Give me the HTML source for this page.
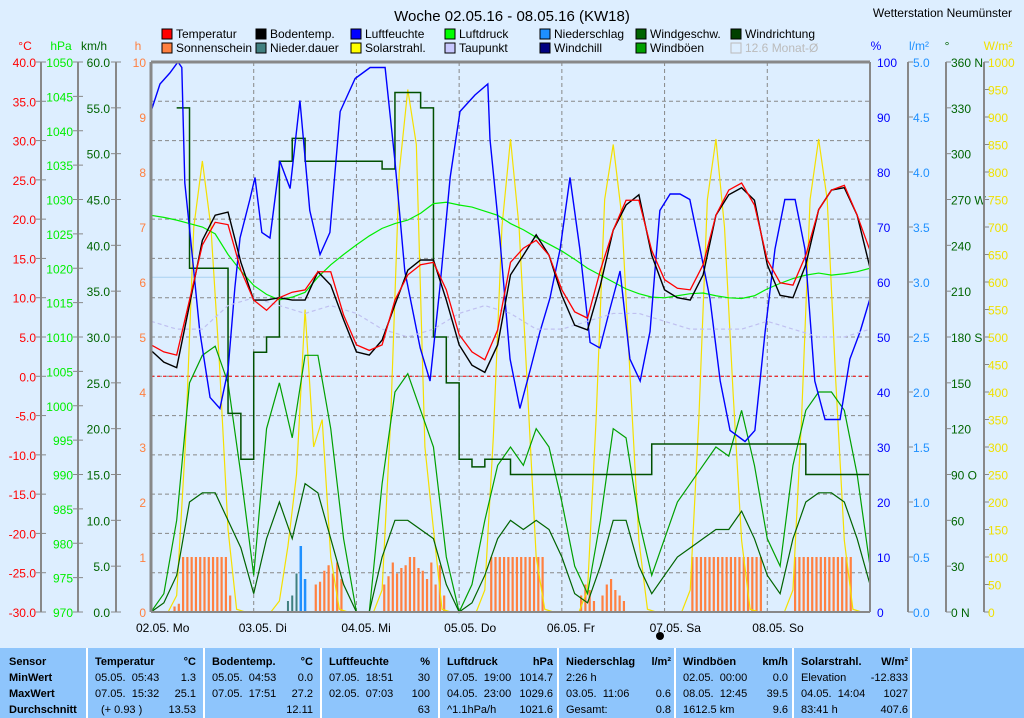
<!DOCTYPE html>
<html><head><meta charset="utf-8">
<style>
body{margin:0;background:#ddeeff;font-family:"Liberation Sans",sans-serif;}
#wrap{position:relative;width:1024px;height:718px;overflow:hidden;background:#ddeeff;}
svg{position:absolute;left:0;top:0;}
#tbl{position:absolute;left:0;top:648px;width:1024px;height:70px;background:#8ec5fc;}
.col{position:absolute;top:0;height:70px;border-left:2px solid #fff;font-size:11px;color:#000;}
.col div{position:absolute;white-space:nowrap;}
.b{font-weight:bold;}
</style></head><body>
<div id="wrap">
<svg id="chart" width="1024" height="648"></svg>
<div id="tbl">
 <div class="col" style="left:-2px;width:88px">
  <div class="b" style="left:9px;top:8px">Sensor</div><div class="b" style="left:9px;top:24px">MinWert</div><div class="b" style="left:9px;top:40px">MaxWert</div><div class="b" style="left:9px;top:56px">Durchschnitt</div></div>
 <div class="col" style="left:86px;width:116px">
  <div class="b" style="left:7px;top:8px">Temperatur</div><div class="b" style="right:8px;top:8px">°C</div>
  <div style="left:7px;top:24px">05.05.&nbsp; 05:43</div><div style="right:8px;top:24px">1.3</div>
  <div style="left:7px;top:40px">07.05.&nbsp; 15:32</div><div style="right:8px;top:40px">25.1</div>
  <div style="left:13px;top:56px">(+ 0.93 )</div><div style="right:8px;top:56px">13.53</div></div>
 <div class="col" style="left:203px;width:116px">
  <div class="b" style="left:7px;top:8px">Bodentemp.</div><div class="b" style="right:8px;top:8px">°C</div>
  <div style="left:7px;top:24px">05.05.&nbsp; 04:53</div><div style="right:8px;top:24px">0.0</div>
  <div style="left:7px;top:40px">07.05.&nbsp; 17:51</div><div style="right:8px;top:40px">27.2</div>
  <div style="right:8px;top:56px">12.11</div></div>
 <div class="col" style="left:320px;width:116px">
  <div class="b" style="left:7px;top:8px">Luftfeuchte</div><div class="b" style="right:8px;top:8px">%</div>
  <div style="left:7px;top:24px">07.05.&nbsp; 18:51</div><div style="right:8px;top:24px">30</div>
  <div style="left:7px;top:40px">02.05.&nbsp; 07:03</div><div style="right:8px;top:40px">100</div>
  <div style="right:8px;top:56px">63</div></div>
 <div class="col" style="left:438px;width:117px">
  <div class="b" style="left:7px;top:8px">Luftdruck</div><div class="b" style="right:4px;top:8px">hPa</div>
  <div style="left:7px;top:24px">07.05.&nbsp; 19:00</div><div style="right:4px;top:24px">1014.7</div>
  <div style="left:7px;top:40px">04.05.&nbsp; 23:00</div><div style="right:4px;top:40px">1029.6</div>
  <div style="left:7px;top:56px">^1.1hPa/h</div><div style="right:4px;top:56px">1021.6</div></div>
 <div class="col" style="left:557px;width:116px">
  <div class="b" style="left:7px;top:8px">Niederschlag</div><div class="b" style="right:4px;top:8px">l/m²</div>
  <div style="left:7px;top:24px">2:26 h</div>
  <div style="left:7px;top:40px">03.05.&nbsp; 11:06</div><div style="right:4px;top:40px">0.6</div>
  <div style="left:7px;top:56px">Gesamt:</div><div style="right:4px;top:56px">0.8</div></div>
 <div class="col" style="left:674px;width:116px">
  <div class="b" style="left:7px;top:8px">Windböen</div><div class="b" style="right:4px;top:8px">km/h</div>
  <div style="left:7px;top:24px">02.05.&nbsp; 00:00</div><div style="right:4px;top:24px">0.0</div>
  <div style="left:7px;top:40px">08.05.&nbsp; 12:45</div><div style="right:4px;top:40px">39.5</div>
  <div style="left:7px;top:56px">1612.5 km</div><div style="right:4px;top:56px">9.6</div></div>
 <div class="col" style="left:792px;width:118px">
  <div class="b" style="left:7px;top:8px">Solarstrahl.</div><div class="b" style="right:4px;top:8px">W/m²</div>
  <div style="left:7px;top:24px">Elevation</div><div style="right:4px;top:24px">-12.833</div>
  <div style="left:7px;top:40px">04.05.&nbsp; 14:04</div><div style="right:4px;top:40px">1027</div>
  <div style="left:7px;top:56px">83:41 h</div><div style="right:4px;top:56px">407.6</div></div>
 <div class="col" style="left:910px;width:114px"></div>
</div>
</div>
<script>
// ---- data ----
const hours3 = Array.from({length:57},(_,i)=>i*3);
const tempVals=[4.0,3.1,2.7,9.7,16.7,19.6,19.3,13.5,9.7,8.4,10.0,10.7,11.0,13.3,13.3,7.8,4.0,3.3,4.0,9.7,12.9,14.2,14.5,11.0,5.3,3.1,2.1,5.9,14.5,16.3,17.3,15.4,11.0,8.2,7.4,13.5,18.6,22.4,22.4,16.0,12.3,11.2,11.0,14.2,20.5,23.7,24.6,21.8,14.8,11.9,11.6,15.4,21.2,23.7,24.3,20.5,16.0];
const soilVals=[3.3,1.8,1.1,9.1,17.3,20.5,20.9,14.5,9.7,9.7,10.0,9.7,9.7,13.3,11.6,7.2,3.1,2.7,4.6,9.1,13.5,14.8,14.8,9.7,4.0,1.4,0.5,4.0,12.9,15.4,18.0,15.4,10.3,6.5,5.9,11.6,18.6,21.8,23.1,15.4,11.0,10.0,9.7,12.9,20.5,23.1,24.0,22.4,14.2,10.3,10.0,14.2,21.2,23.7,24.0,20.5,13.8];
const hours6 = Array.from({length:29},(_,i)=>i*6);
const dewVals=[7,6,6,9,10,9,8,9,8,6,5,6,8,9,8,6,6,7,8,8,7,6,6,6,7,6,5,5,6];
const humHours=[0,2.1,4.4,6.3,7.2,7.9,9.1,11.4,13.8,16.1,18,19.6,20.8,23.1,24.3,25.9,27.8,30.1,32.5,34.8,37.1,39.5,41.8,44.2,47.7,51.2,54.7,57,59.3,62.9,65.2,67.5,69.9,72.2,75.7,78.7,79.2,81.5,83.9,86.2,88.6,90.9,93.2,95.6,97.9,100.2,102.6,104.9,107.2,109.6,111.9,114.3,116.6,118.9,121.3,123.6,125.9,128.3,130.6,133,135.3,138.8,141.1,143.5,145.8,148.1,150.5,152.8,155.1,157.5,161,163.3,165.7,168];
const humVals=[91,96,98,100,99,78,69,51,39,37,44,59,68,75,79,69,68,82,77,93,73,65,69,91,97,99,99,82,62,48,42,59,79,91,94,96,86,68,46,37,44,51,57,66,79,66,49,48,55,62,46,42,51,73,76,76,75,66,57,42,33,31,33,51,66,75,75,66,42,35,35,46,51,57];
const pressVals=[1027.7,1027.4,1027,1026.5,1026,1025,1022,1019.6,1017.5,1016.2,1015.4,1015.8,1016.5,1018.7,1020.5,1022,1023.4,1024.7,1025.8,1026.5,1027,1028,1029.4,1029.6,1029.2,1028.9,1028.3,1027.7,1026.5,1025.6,1024.5,1023.5,1022.5,1021.3,1020,1019,1018,1017,1016.3,1015.8,1015.7,1016,1016.3,1016.4,1016,1015.7,1015.6,1016,1017,1017.8,1018.5,1019,1019.3,1019,1019.2,1019.5,1020];
const gustVals=[0,2,10,25,28,29,25,15,4,20,25,19,28,28,20,8,0,0,14,24,26,22,18,6,0,3,10,16,18,16,20,18,12,5,2,10,20,19,10,4,8,12,14,16,18,17,22,16,8,5,16,22,24,24,22,15,5];
const windVals=[0,1,4,12,13,13,10,7,2,8,12,8,14,13,8,3,0,0,6,10,10,9,8,3,0,1,4,8,10,9,10,9,6,2,1,5,10,10,5,2,4,6,7,8,9,9,11,8,4,2,8,12,13,13,12,8,3];
const dirHours=hours3.slice(2);
const dirVals=[330,225,225,225,130,100,170,180,295,310,295,295,295,295,295,295,290,340,340,330,180,150,100,95,100,100,90,90,90,90,90,90,90,90,90,90,90,110,110,110,110,110,110,110,110,110,110,110,110,90,90,90,90,90,90];
const hours2 = Array.from({length:85},(_,i)=>i*2);
const solarVals=[0,0,0,30,300,700,820,700,450,150,5,0,
 0,0,0,20,120,250,550,300,350,100,5,0,
 0,0,0,40,350,800,950,850,300,150,5,0,
 0,0,0,40,320,700,860,700,400,100,5,0,
 0,0,0,40,350,750,850,720,420,130,5,0,
 0,0,0,40,350,750,860,700,400,130,5,0,
 0,0,0,40,350,750,860,750,420,130,5,0,0];
const sunVals=[].concat(
 [0,0,0,0,0,0.1,0.15,1,1,1,1,1,1,1,1,1,1,1,0.3,0,0,0,0,0],
 [0,0,0,0,0,0,0,0,0,0,0,0,0,0,0.5,0.55,0.75,0.85,0.7,0.9,0.6,0,0,0],
 [0,0,0,0,0,0,0.5,0.65,0.9,0.7,0.8,0.85,1,1,0.8,0.75,0.6,0.9,0.5,0.85,0.3,0,0,0],
 [0,0,0,0,0,0,0,1,1,1,1,1,1,1,1,1,1,1,1,1,0,0,0,0],
 [0,0,0,0,0.3,0.5,0.4,0.2,0,0.3,0.5,0.6,0.4,0.3,0.2,0,0,0,0,0,0,0,0,0],
 [0,0,0,0,0,0,1,1,1,1,1,1,1,1,1,1,1,1,1,1,1,1,1,0],
 [0,0,0,0,0,0,1,1,1,1,1,1,1,1,1,1,1,1,1,1,0,0,0,0]);
const precipHours=[35,36];
const precipVals=[0.6,0.3];
const rainDurHours=[32,33,34];
const rainDurVals=[0.1,0.15,0.35];
const dayLabels=["02.05.  Mo","03.05.  Di","04.05.  Mi","05.05.  Do","06.05.  Fr","07.05.  Sa","08.05.  So"];

// ---- scales ----
const L=151,R=870,T=62,B=612;
const X=h=>L+h*(R-L)/168;
const yC=v=>T+(40-v)*550/70, yP=v=>T+(1050-v)*550/80, yK=v=>T+(60-v)*550/60, yH=v=>B-v*55;
const yPct=v=>B-v*5.5, yL=v=>B-v*110, yDeg=v=>B-v*550/360, yW=v=>B-v*0.55;
const NS="http://www.w3.org/2000/svg", svg=document.getElementById('chart');
function mk(tag,attrs,parent){const e=document.createElementNS(NS,tag);for(const k in attrs)e.setAttribute(k,attrs[k]);(parent||svg).appendChild(e);return e;}
function txt(s,x,y,fill,anchor,size,parent){const t=mk('text',{x:x,y:y,fill:fill,'text-anchor':anchor||'start','font-size':size||12,'font-family':'Liberation Sans, sans-serif'},parent);t.textContent=s;return t;}

let t=txt("Woche 02.05.16 - 08.05.16 (KW18)",512,21,"#000","middle",15);


t=txt("Wetterstation Neumünster",1012,17,"#000","end",12);



const legend=[["Temperatur","#ff0000",162,38],["Bodentemp.","#000000",256,38],["Luftfeuchte","#0000ff",351,38],["Luftdruck","#00ff00",445,38],["Niederschlag","#1e90ff",540,38],["Windgeschw.","#006400",636,38],["Windrichtung","#004000",731,38],
["Sonnenschein","#ff8040",162,52],["Nieder.dauer","#408080",256,52],["Solarstrahl.","#ffff00",351,52],["Taupunkt","#c8c8ff",445,52],["Windchill","#000080",540,52],["Windböen","#00a000",636,52]];
legend.forEach(l=>{const g=mk('g',{});


mk('rect',{x:l[2],y:l[3]-9,width:10,height:10,fill:l[1],stroke:'#000','stroke-width':1},g);
txt(l[0],l[2]+14,l[3],"#000","start",12,g);});
const gm=mk('g',{});


mk('rect',{x:731,y:43,width:10,height:10,fill:'none',stroke:'#bbb'},gm);
txt("12.6 Monat-Ø",745,52,"#bbb","start",12,gm);

const grid=mk('g',{});


for(let v=35;v>-30;v-=5){mk('line',{x1:L,x2:R,y1:yC(v),y2:yC(v),stroke:'#888','stroke-dasharray':'4,3'},grid);}
for(let d=1;d<7;d++){mk('line',{x1:X(d*24),x2:X(d*24),y1:T,y2:B,stroke:'#888','stroke-dasharray':'4,3'},grid);}
let zl=mk('line',{x1:L,x2:R,y1:yC(0),y2:yC(0),stroke:'#ff0000','stroke-dasharray':'3,3'});


let ml=mk('line',{x1:L,x2:R,y1:yC(12.6),y2:yC(12.6),stroke:'#a8d0f0'});



function axis(name,xLine,unit,unitX,color,vals,scale,fmt,side,labelX){
 const g=mk('g',{});
 
 
 if(xLine!==null) mk('line',{x1:xLine,x2:xLine,y1:T,y2:B,stroke:'#888','stroke-width':2},g);
 txt(unit,unitX,50,color,"middle",12,g);
 vals.forEach(v=>{const y=scale(v);
  if(xLine!==null) mk('line',{x1:side<0?xLine-5:xLine,x2:xLine+5,y1:y,y2:y,stroke:'#888'},g);
  txt(fmt(v),labelX,y+5,color,side<0?"end":"start",12,g);});
}
const range=(a,b,s)=>{const r=[];for(let v=a;v>=b-1e-9;v-=s)r.push(Math.round(v*100)/100);return r;};
axis('celsius-axis',41,"°C",25,"#ff0000",range(40,-30,5),yC,v=>v.toFixed(1),-1,36);
axis('pressure-axis',78,"hPa",61,"#00ee00",range(1050,970,5),yP,v=>String(v),-1,73);
axis('wind-speed-axis',116,"km/h",94,"#006400",range(60,0,5),yK,v=>v.toFixed(1),-1,110);
axis('sunshine-axis',null,"h",138,"#ff8040",range(10,0,1),yH,v=>String(v),-1,146);
axis('humidity-axis',null,"%",876,"#0000ff",range(100,0,10),yPct,v=>String(v),1,877);
axis('precip-axis',908,"l/m²",919,"#1e90ff",range(5,0,0.5),yL,v=>v.toFixed(1),1,913);
const dirName={360:" N",270:" W",180:" S",90:" O",0:" N"};
axis('direction-axis',946,"°",947,"#006400",range(360,0,30),yDeg,v=>v+(dirName[v]||""),1,951);
axis('solar-axis',984,"W/m²",998,"#f0e000",range(1000,0,50),yW,v=>String(v),1,988);

dayLabels.forEach((s,i)=>{const e=txt(s,X(i*24)-15,632,"#000","start",12);

});
let dot=mk('circle',{cx:660,cy:636,r:4,fill:'#000'});



function line(name,xs,vals,scale,color,width,dash,step){
 let d="";xs.forEach((h,i)=>{const x=X(h),y=scale(vals[i]);
  if(i===0)d+="M"+x+","+y;else if(step)d+="H"+x+"V"+y;else d+="L"+x+","+y;});
 const p=mk('path',{d:d,fill:'none',stroke:color,'stroke-width':width||1.3});
 if(dash)p.setAttribute('stroke-dasharray',dash);
 
 
}
function bars(name,xs,vals,scale,color,w){
 xs.forEach((h,i)=>{if(!vals[i])return;const y=scale(vals[i]);
  const r=mk('rect',{x:X(h)-w/2,y:y,width:w,height:B-y,fill:color});
  
  });
}
bars('sunshine-bar',sunVals.map((_,i)=>i+0.5),sunVals,yH,"#ff8040",2.2);
bars('rain-duration-bar',rainDurHours,rainDurVals,yL,"#408080",2);
bars('precip-bar',precipHours,precipVals,yL,"#1e90ff",2.5);
line('solar-line',hours2,solarVals,yW,"#f5e000",1.2);
line('wind-gust-line',hours3,gustVals,yK,"#00a000",1.2);
line('wind-speed-line',hours3,windVals,yK,"#006400",1.2);
line('wind-direction-line',dirHours,dirVals,yDeg,"#005000",1.5,null,true);
line('pressure-line',hours3,pressVals,yP,"#00ee00",1.2);
line('humidity-line',humHours,humVals,yPct,"#0000ff",1.4);
line('dewpoint-line',hours6,dewVals,yC,"#c0c0f0",1.2,"4,3");
line('soil-temperature-line',hours3,soilVals,yC,"#000",1.4);
line('temperature-line',hours3,tempVals,yC,"#ff0000",1.3);

const fr=mk('g',{});


mk('line',{x1:L,x2:R,y1:T,y2:T,stroke:'#888','stroke-width':3},fr);
mk('line',{x1:L,x2:L,y1:T,y2:B,stroke:'#888','stroke-width':3},fr);
mk('line',{x1:R,x2:R,y1:T,y2:B,stroke:'#888','stroke-width':2},fr);
mk('line',{x1:L,x2:R,y1:B,y2:B,stroke:'#888','stroke-width':2},fr);
</script>
</body></html>
